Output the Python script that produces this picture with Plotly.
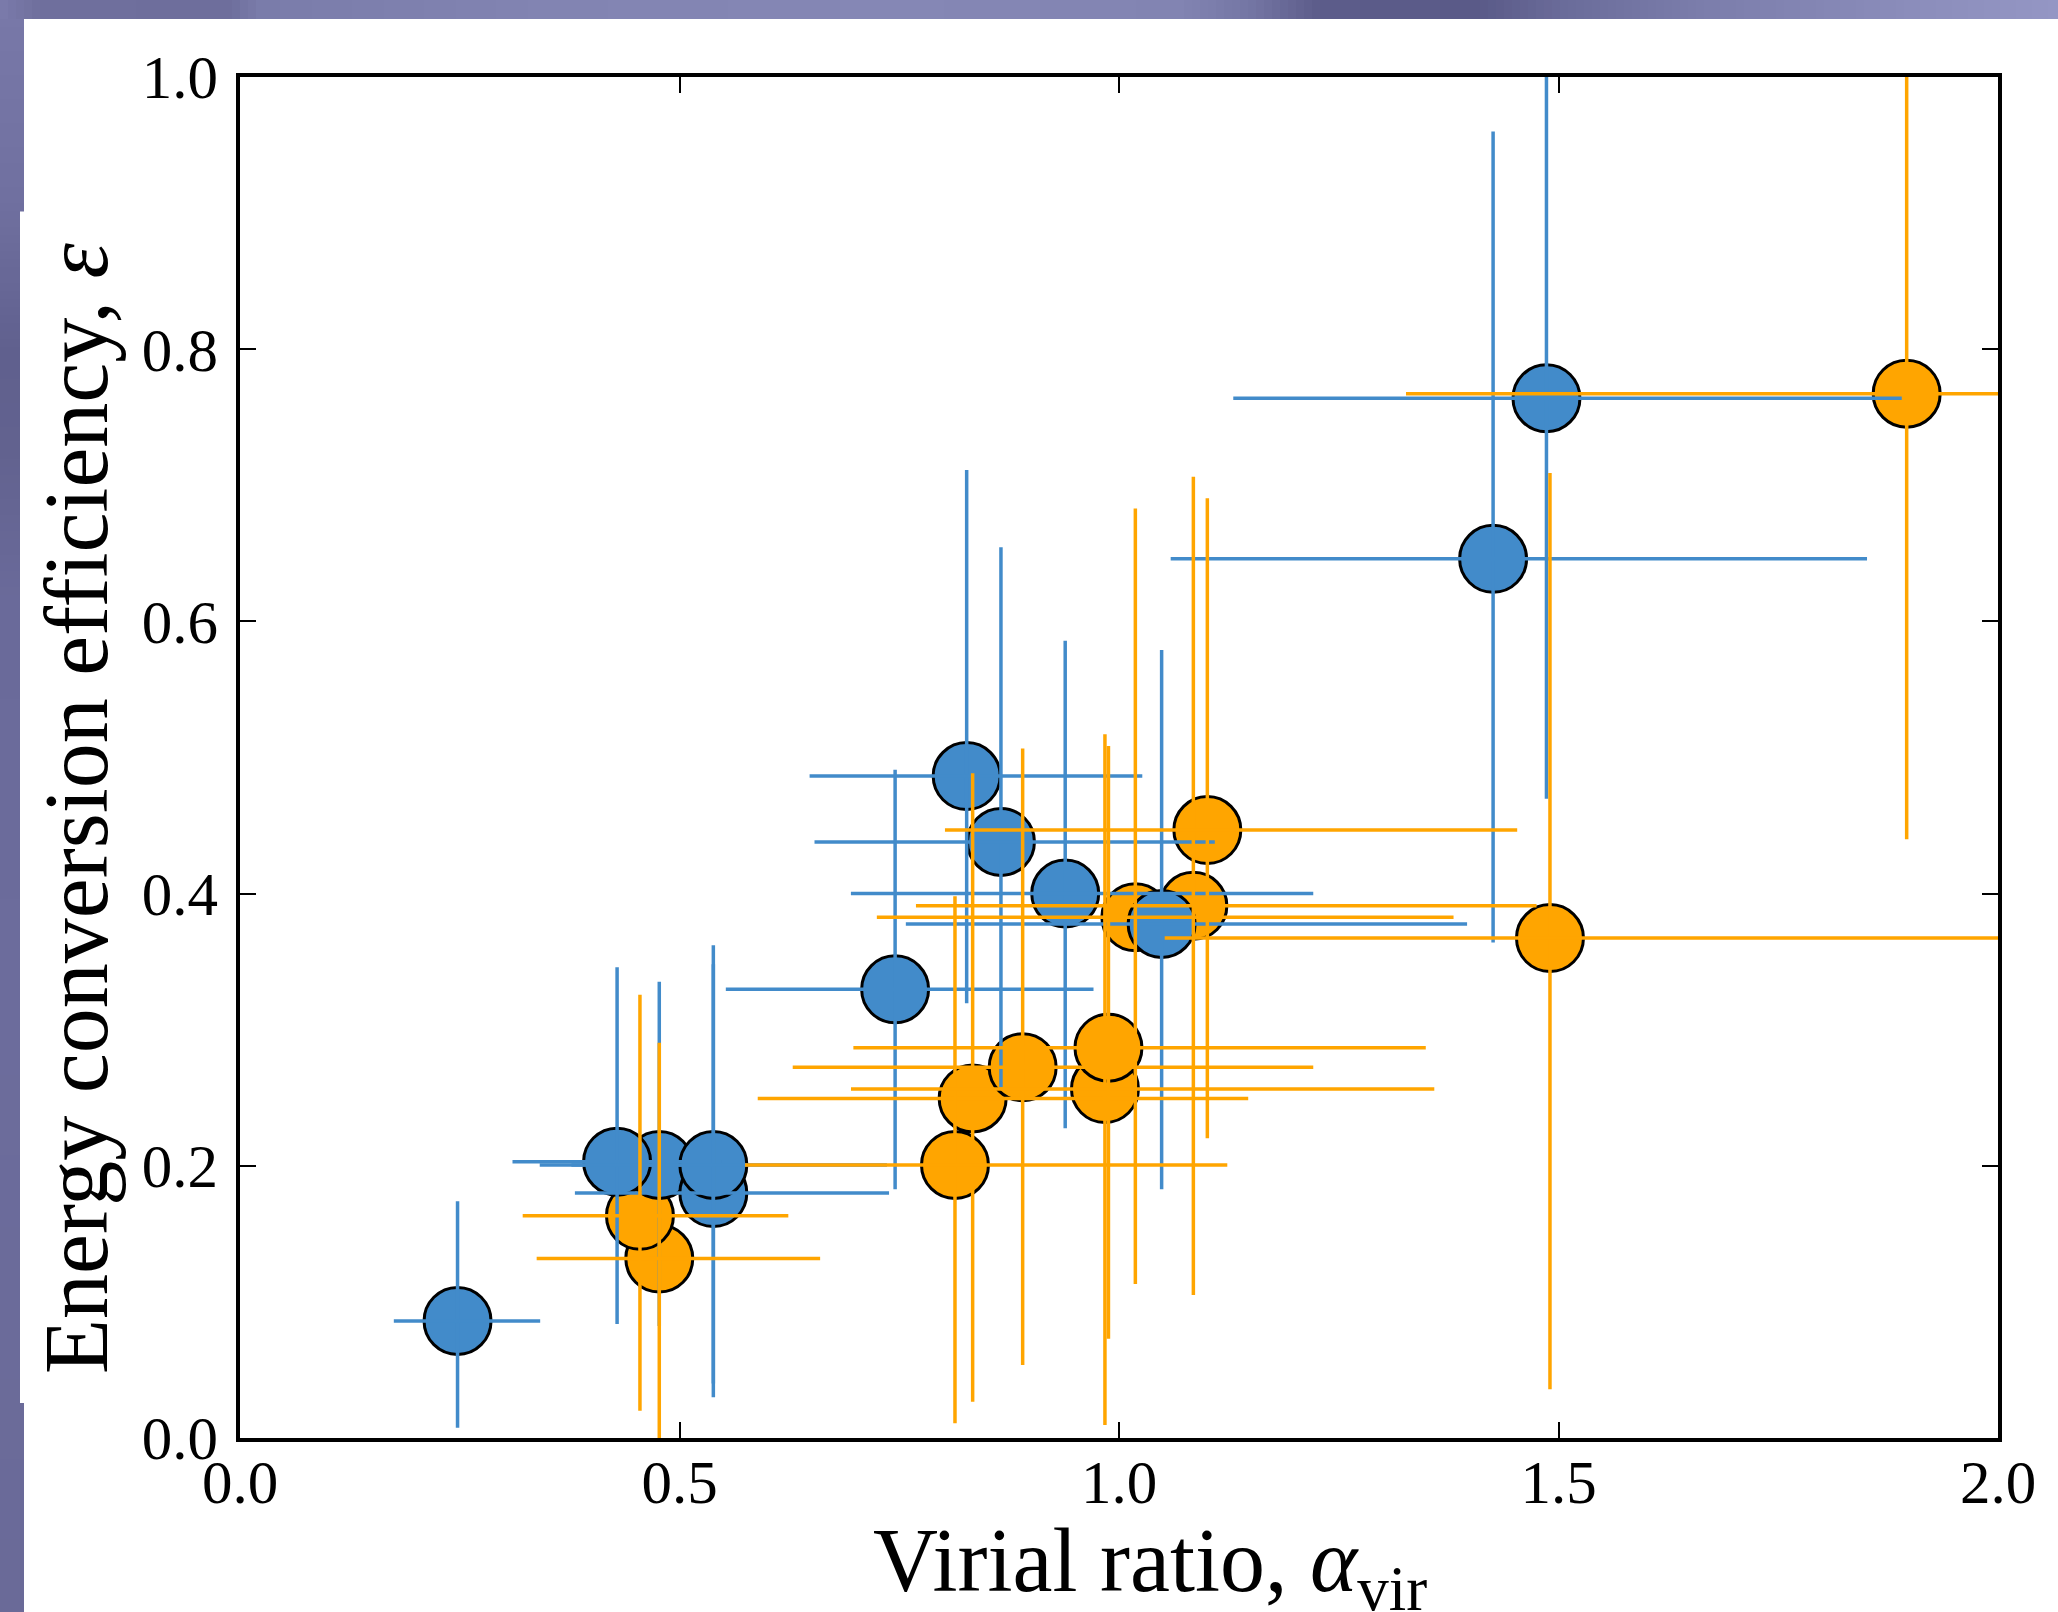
import plotly.graph_objects as go

# ---------------- data ----------------
# Blue series: marker position and error-bar extents (lo/hi)
blue_x    = [0.2475, 0.477, 0.429, 0.5385, 0.5385, 0.7453, 0.8267, 0.8657, 0.9388, 1.0485, 1.4256, 1.4863]
blue_y    = [0.086, 0.2006, 0.203, 0.180, 0.2006, 0.3297, 0.4864, 0.438, 0.400, 0.3777, 0.646, 0.764]
blue_x_lo = [0.175, 0.377, 0.310, 0.381, 0.341, 0.5527, 0.648, 0.6536, 0.695, 0.7575, 1.0588, 1.130]
blue_x_hi = [0.3415, 0.577, 0.548, 0.7384, 0.736, 0.971, 1.0265, 1.109, 1.221, 1.396, 1.851, 1.8905]
blue_y_lo = [0.0076, 0.0823, 0.0838, 0.040, 0.030, 0.1827, 0.3194, 0.2577, 0.2275, 0.1827, 0.364, 0.4696]
blue_y_hi = [0.174, 0.3352, 0.3459, 0.348, 0.362, 0.491, 0.7113, 0.6544, 0.5858, 0.579, 0.960, 1.06]

# Orange series
orange_x    = [0.477, 0.455, 0.8335, 0.8134, 0.8904, 0.984, 0.988, 1.0186, 1.0846, 1.1005, 1.4903, 1.8961]
orange_y    = [0.1318, 0.1633, 0.2495, 0.2006, 0.2725, 0.2564, 0.2868, 0.3826, 0.391, 0.4467, 0.3673, 0.7673]
orange_x_lo = [0.3375, 0.3216, 0.589, 0.5745, 0.6288, 0.6951, 0.6978, 0.7245, 0.769, 0.802, 1.052, 1.3265]
orange_x_hi = [0.660, 0.6238, 1.147, 1.1232, 1.221, 1.3587, 1.349, 1.3806, 1.475, 1.453, 2.10, 2.45]
orange_y_lo = [0.0, 0.020, 0.0267, 0.0108, 0.0536, 0.0095, 0.073, 0.1132, 0.105, 0.2202, 0.0358, 0.440]
orange_y_hi = [0.2905, 0.3256, 0.4884, 0.398, 0.5067, 0.517, 0.5085, 0.683, 0.7063, 0.6904, 0.709, 1.10]

x_ticks = [0.0, 0.5, 1.0, 1.5, 2.0]
x_tick_labels = ["0.0", "0.5", "1.0", "1.5", "2.0"]
y_ticks = [0.0, 0.2, 0.4, 0.6, 0.8, 1.0]
y_tick_labels = ["0.0", "0.2", "0.4", "0.6", "0.8", "1.0"]

x_title = "Virial ratio, <i>α</i><sub>vir</sub>"
y_title = "Energy conversion efficiency, <i>ε</i>"

# ---------------- styling ----------------
W, H = 2058, 1612
L, R, T, B = 240, 1998, 77, 1438   # plot-area pixel box
BLUE = "#428BCA"
ORANGE = "#FFA500"
FONT = "Liberation Serif"


def px2paper_x(px):
    return (px - L) / (R - L)


def px2paper_y(py):
    return (B - py) / (B - T)


def hex2rgb(h):
    h = h.lstrip("#")
    return tuple(int(h[i:i + 2], 16) for i in (0, 2, 4))


def lerp_color(stops, p):
    for (p0, c0), (p1, c1) in zip(stops, stops[1:]):
        if p0 <= p <= p1:
            t = 0 if p1 == p0 else (p - p0) / (p1 - p0)
            a, b = hex2rgb(c0), hex2rgb(c1)
            return "rgb(%d,%d,%d)" % tuple(round(a[i] + (b[i] - a[i]) * t) for i in range(3))
    return stops[-1][1]


def plus(hi, v):
    return [h - x for h, x in zip(hi, v)]


def minus(lo, v):
    return [x - l for l, x in zip(lo, v)]


fig = go.Figure()

# markers first (orange below blue)
for xs, ys, col in [(orange_x, orange_y, ORANGE), (blue_x, blue_y, BLUE)]:
    fig.add_trace(go.Scatter(
        x=xs, y=ys, mode="markers",
        marker=dict(size=67, color=col, line=dict(color="black", width=3)),
        hoverinfo="skip", showlegend=False))

# error bars on top of all markers
for xs, ys, xlo, xhi, ylo, yhi, col in [
        (blue_x, blue_y, blue_x_lo, blue_x_hi, blue_y_lo, blue_y_hi, BLUE),
        (orange_x, orange_y, orange_x_lo, orange_x_hi, orange_y_lo, orange_y_hi, ORANGE)]:
    fig.add_trace(go.Scatter(
        x=xs, y=ys, mode="markers",
        marker=dict(size=1, color="rgba(0,0,0,0)"),
        error_x=dict(type="data", symmetric=False, array=plus(xhi, xs), arrayminus=minus(xlo, xs),
                     thickness=3.5, width=0, color=col),
        error_y=dict(type="data", symmetric=False, array=plus(yhi, ys), arrayminus=minus(ylo, ys),
                     thickness=3.5, width=0, color=col),
        hoverinfo="skip", showlegend=False))

# decorative slide frame: gradient bar on top, band on the left
shapes = []
top_stops = [(0, "#7b7bab"), (40, "#6f6f9d"), (230, "#6e6e9c"), (260, "#7a7caa"), (550, "#8284b2"),
             (900, "#8587b5"), (1180, "#8284b2"), (1250, "#7476a4"), (1320, "#5c5c8a"),
             (1480, "#5a5a88"), (1560, "#6a6b99"), (1700, "#7b7dab"), (1900, "#8a8cba"), (2058, "#9496c4")]
step = 8
for x0 in range(0, W, step):
    x1 = min(W, x0 + step)
    shapes.append(dict(type="rect", xref="paper", yref="paper",
                       x0=px2paper_x(x0), x1=px2paper_x(x1 + 0.5),
                       y0=px2paper_y(19), y1=px2paper_y(0),
                       line=dict(width=0), fillcolor=lerp_color(top_stops, (x0 + x1) / 2), layer="above"))
left_stops = [(19, "#7878a8"), (200, "#7070a0"), (350, "#60608e"), (450, "#62628f"),
              (600, "#6a6a9a"), (1000, "#6c6c9c"), (1612, "#6a6a98")]
for y0 in range(19, H, step):
    y1 = min(H, y0 + step)
    wband = 20 if 206 <= y0 < 1400 else 24
    shapes.append(dict(type="rect", xref="paper", yref="paper",
                       x0=px2paper_x(0), x1=px2paper_x(wband),
                       y0=px2paper_y(y1 + 0.5), y1=px2paper_y(y0),
                       line=dict(width=0), fillcolor=lerp_color(left_stops, (y0 + y1) / 2), layer="above"))

axis_common = dict(showline=True, linewidth=3.5, linecolor="black", mirror="ticks",
                   ticks="inside", ticklen=16, tickwidth=1.6, tickcolor="black",
                   showgrid=False, zeroline=False,
                   tickfont=dict(family=FONT, size=61, color="black"))

fig.update_layout(
    width=W, height=H, autosize=False,
    margin=dict(l=L, r=W - R, t=T, b=H - B, pad=0),
    paper_bgcolor="white", plot_bgcolor="white",
    xaxis=dict(range=[0, 2], tickvals=x_ticks, ticktext=x_tick_labels, ticklabelstandoff=-12, **axis_common),
    yaxis=dict(range=[0, 1], tickvals=y_ticks, ticktext=y_tick_labels, ticklabelstandoff=6, **axis_common),
    shapes=shapes,
    annotations=[
        dict(text=x_title, xref="paper", yref="paper", x=px2paper_x(1150), y=px2paper_y(1568),
             xanchor="center", yanchor="middle", showarrow=False,
             font=dict(family=FONT, size=90, color="black")),
        dict(text=y_title, xref="paper", yref="paper", x=px2paper_x(76), y=px2paper_y(809),
             xanchor="center", yanchor="middle", showarrow=False, textangle=-90,
             font=dict(family=FONT, size=90, color="black")),
    ],
)

fig.write_html("out.html", config={"displayModeBar": False},
               post_script="document.body.style.margin='0';document.body.style.overflow='hidden';")
